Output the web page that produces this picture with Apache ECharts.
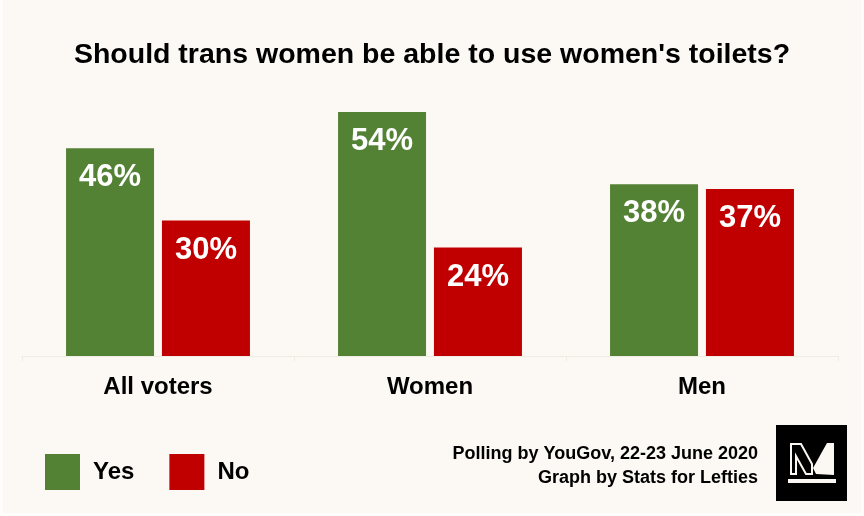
<!DOCTYPE html>
<html>
<head>
<meta charset="utf-8">
<title>Should trans women be able to use women's toilets?</title>
<script src="https://cdn.jsdelivr.net/npm/echarts@6/dist/echarts.min.js"></script>
<style>
  html, body { margin: 0; padding: 0; background: #fefdfb; }
  #chart { width: 864px; height: 516px; }
</style>
</head>
<body>
<div id="chart"></div>
<script>
  var categories = ['All voters', 'Women', 'Men'];
  var yesValues = [46, 54, 38];
  var noValues = [30, 24, 37];
  var titleText = "Should trans women be able to use women's toilets?";
  var sourceLines = ['Polling by YouGov, 22-23 June 2020', 'Graph by Stats for Lefties'];

  var FONT = '"Liberation Sans", Arial, sans-serif';
  var GREEN = '#548235', RED = '#c00000', BG = '#fcf8f3', TICK = '#f1ece2';

  var chart = echarts.init(document.getElementById('chart'), null, { renderer: 'canvas' });

  // 柱子标签
  var barLabel = {
    show: true,
    position: 'insideTop',
    distance: 14,
    color: '#fff',
    fontFamily: FONT,
    fontWeight: 'bold',
    fontSize: 31,
    formatter: '{c}%'
  };

  chart.setOption({
    animation: false,
    backgroundColor: 'transparent',
    title: {
      text: titleText,
      left: 'center',
      top: 36,
      textStyle: { color: '#000', fontFamily: FONT, fontWeight: 'bold', fontSize: 28.5 }
    },
    legend: {
      left: 40,
      top: 449,
      icon: 'rect',
      itemWidth: 35,
      itemHeight: 36,
      itemGap: 35,
      selectedMode: false,
      textStyle: { color: '#000', fontFamily: FONT, fontWeight: 'bold', fontSize: 24, padding: [2, 0, 0, 8] },
      data: ['Yes', 'No']
    },
    grid: { left: 22, right: 26, top: 85, bottom: 160 },
    xAxis: {
      type: 'category',
      data: categories,
      axisLine: { lineStyle: { color: TICK, width: 1 } },
      axisTick: { show: true, length: 5, lineStyle: { color: TICK } },
      axisLabel: { color: '#000', fontFamily: FONT, fontWeight: 'bold', fontSize: 24, margin: 19 }
    },
    yAxis: { type: 'value', min: 0, max: 60, show: false },
    series: [
      { name: 'Yes', type: 'bar', data: yesValues, barWidth: 88, barGap: '9%', itemStyle: { color: GREEN }, label: barLabel },
      { name: 'No', type: 'bar', data: noValues, barWidth: 88, barGap: '9%', itemStyle: { color: RED }, label: barLabel }
    ],
    graphic: [
      // 背景
      { type: 'rect', z: -10, shape: { x: 3, y: 0, width: 858, height: 513 }, style: { fill: BG } },
      // 来源
      { type: 'text', x: 758, y: 454, style: { text: sourceLines[0], align: 'right', verticalAlign: 'middle', fill: '#000', font: 'bold 18px ' + FONT } },
      { type: 'text', x: 758, y: 478, style: { text: sourceLines[1], align: 'right', verticalAlign: 'middle', fill: '#000', font: 'bold 18px ' + FONT } },
      // logo
      { type: 'rect', shape: { x: 776, y: 425, width: 71, height: 76 }, style: { fill: '#000' } },
      { type: 'rect', z: 6, shape: { x: 788, y: 479, width: 48, height: 4 }, style: { fill: '#fbf8f3' } },
      { type: 'polygon', z: 6, shape: { points: [[791, 444], [801, 444], [812, 464], [812, 474], [806, 474], [796, 456], [796, 474], [791, 474]] },
        style: { fill: '#000', stroke: '#fbf8f3', lineWidth: 2 } },
      { type: 'polygon', z: 6, shape: { points: [[816, 474], [813, 468], [827, 443], [834, 443], [834, 475]] }, style: { fill: '#fbf8f3' } }
    ]
  });
</script>
</body>
</html>
